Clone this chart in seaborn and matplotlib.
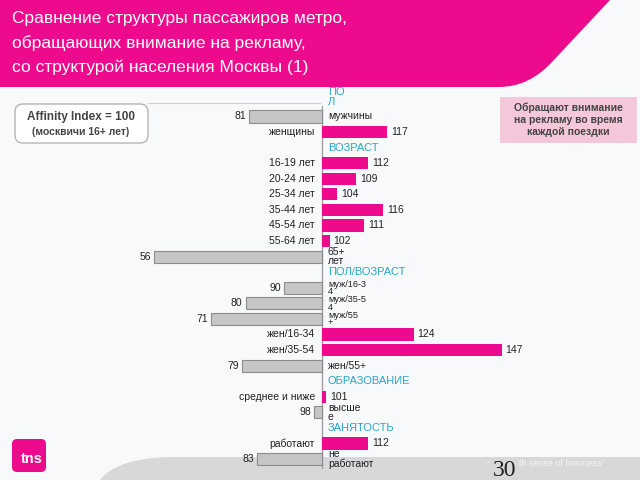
import matplotlib
matplotlib.use("Agg")
import matplotlib.pyplot as plt
import matplotlib.transforms as mtransforms
from matplotlib.path import Path
from matplotlib.patches import PathPatch, FancyBboxPatch
import seaborn as sns
import pandas as pd

sns.set_theme(style="white")
plt.rcParams['font.family'] = ['Liberation Sans', 'DejaVu Sans']

# ---------------- data ----------------
title_lines = ["Сравнение структуры пассажиров метро,",
               "обращающих внимание на рекламу,",
               "со структурой населения Москвы (1)"]

sections = ["ПО\nЛ", "ВОЗРАСТ", "ПОЛ/ВОЗРАСТ", "ОБРАЗОВАНИЕ", "ЗАНЯТОСТЬ"]

sex_labels = ["мужчины", "женщины"]
sex_values = [81, 117]

age_labels = ["16-19 лет", "20-24 лет", "25-34 лет", "35-44 лет",
              "45-54 лет", "55-64 лет", "65+\nлет"]
age_values = [112, 109, 104, 116, 111, 102, 56]

sexage_labels = ["муж/16-3\n4", "муж/35-5\n4", "муж/55\n+",
                 "жен/16-34", "жен/35-54", "жен/55+"]
sexage_values = [90, 80, 71, 124, 147, 79]

edu_labels = ["среднее и ниже", "высше\nе"]
edu_values = [101, 98]

emp_labels = ["работают", "не\nработают"]
emp_values = [112, 83]

baseline = 100
box_left = ["Affinity Index = 100", "(москвичи 16+ лет)"]
box_right = "Обращают внимание\nна рекламу во время\nкаждой поездки"
footer_quote = ["\u201c", "th sense of business\u201d"]
page_number = "30"

# ---------------- build rows ----------------
groups = [(sections[0], sex_labels, sex_values),
          (sections[1], age_labels, age_values),
          (sections[2], sexage_labels, sexage_values),
          (sections[3], edu_labels, edu_values),
          (sections[4], emp_labels, emp_values)]

rows = []
for head, labs, vals in groups:
    rows.append(dict(label=head, value=None, kind="head"))
    for l, v in zip(labs, vals):
        rows.append(dict(label=l, value=v, kind="cat"))
rows = pd.DataFrame(rows)
rows["rid"] = [f"r{i:02d}" for i in range(len(rows))]
order = list(rows["rid"])
bars = rows[rows.kind == "cat"].copy()
bars["dev"] = bars["value"] - baseline
bars["sign"] = ["pos" if v >= baseline else "neg" for v in bars["value"]]

PINK = "#EE0A8C"
GRAY = "#C6C6C6"
TEAL = "#2AA6C8"

# ---------------- figure ----------------
fig = plt.figure(figsize=(6.4, 4.8), dpi=100)
fig.patch.set_facecolor("#F7F9FA")

bg = fig.add_axes([0, 0, 1, 1], zorder=0)
bg.set_xlim(0, 640)
bg.set_ylim(480, 0)
bg.axis("off")

# title band
P = Path
verts = [(0, 0), (610, 0), (552, 62), (529, 87), (499, 87), (0, 87), (0, 0)]
codes = [P.MOVETO, P.LINETO, P.LINETO, P.CURVE3, P.CURVE3, P.LINETO, P.CLOSEPOLY]
bg.add_patch(PathPatch(Path(verts, codes), facecolor=PINK, edgecolor="none"))
for i, t in enumerate(title_lines):
    bg.text(12, 19 + i * 24, t, color="white", fontsize=12.5,
            ha="left", va="center")

# bottom gray band
verts = [(100, 480), (118, 457), (175, 457), (640, 457), (640, 480), (100, 480)]
codes = [P.MOVETO, P.CURVE3, P.CURVE3, P.LINETO, P.LINETO, P.CLOSEPOLY]
bg.add_patch(PathPatch(Path(verts, codes), facecolor="#D6D8D9", edgecolor="none"))

# thin line near left box
bg.plot([148, 320], [103, 103], color="#D0D0D0", lw=0.8)

# left box
bg.add_patch(FancyBboxPatch((15, 104), 133, 39,
                            boxstyle="round,pad=0,rounding_size=8",
                            facecolor="white", edgecolor="#B5B5B5", lw=1))
bg.text(81, 117, box_left[0], fontsize=8.5, fontweight="bold",
        color="#444444", ha="center", va="center")
bg.text(81, 132, box_left[1], fontsize=7.5, fontweight="bold",
        color="#444444", ha="center", va="center")

# right pink box
bg.add_patch(FancyBboxPatch((500, 97), 137, 46,
                            boxstyle="square,pad=0",
                            facecolor="#F4C8DA", edgecolor="none"))
bg.text(568, 119.5, box_right, fontsize=7.5, fontweight="bold",
        color="#444444", ha="center", va="center", linespacing=1.25)

# logo
bg.add_patch(FancyBboxPatch((12, 439), 34, 33,
                            boxstyle="round,pad=0,rounding_size=5",
                            facecolor=PINK, edgecolor="none"))
bg.text(21, 459, "tns", color="white", fontsize=10.5, fontweight="bold",
        ha="left", va="center")

# footer
bg.text(486, 464, footer_quote[0], color="#F4F4F4",
        fontsize=6.5, ha="left", va="center")
bg.text(519, 464, footer_quote[1], color="#F4F4F4",
        fontsize=6.5, ha="left", va="center")
bg.text(505, 471, page_number, fontsize=17, color="#222222",
        family="Liberation Serif", ha="center", va="center")

# ---------------- bars ----------------
ax = fig.add_axes([0, 0, 1, 1], zorder=1)
ax.patch.set_alpha(0)
sns.barplot(data=bars, x="dev", y="rid", order=order, hue="sign",
            hue_order=["pos", "neg"], palette={"pos": PINK, "neg": GRAY},
            dodge=False, orient="h", width=0.78, errorbar=None,
            saturation=1, legend=False, ax=ax)
for p in ax.patches:
    r, g, b, a = p.get_facecolor()
    if abs(r - g) < 0.05:
        p.set_edgecolor("#8C8C8C")
        p.set_linewidth(0.8)
    else:
        p.set_edgecolor("none")

px_per_unit = 3.82
ax.set_xlim(-322 / px_per_unit, 318 / px_per_unit)
row0 = 100.9
row_h = 15.57
ax.set_ylim((480 - row0) / row_h, -row0 / row_h)
ax.axis("off")

ax.plot([0, 0], [0.3, 23.55], color="#A0A0A0", lw=1, zorder=0.5)

def off(dx, dy=0):
    return mtransforms.offset_copy(ax.transData, fig=fig, x=dx, y=dy, units="dots")

for i, r in rows.iterrows():
    if r.kind == "head":
        dy = 4 if "\n" in r.label else 0
        ax.text(0, i, r.label, transform=off(6, dy), color=TEAL, fontsize=8,
                ha="left", va="center", linespacing=0.95)
        continue
    d = r.value - baseline
    if d > 0:
        ax.text(0, i, r.label, transform=off(-7), color="#222222",
                fontsize=7.5, ha="right", va="center")
        ax.text(d, i, f"{int(r.value)}", transform=off(4), color="#222222",
                fontsize=7.5, ha="left", va="center")
    else:
        tight = r.label.startswith("муж/")
        ax.text(0, i, r.label, transform=off(6), color="#222222",
                fontsize=6.6 if tight else 7.5, ha="left", va="center",
                linespacing=0.78 if tight else 0.85)
        ax.text(d, i, f"{int(r.value)}", transform=off(-3), color="#222222",
                fontsize=7.5, ha="right", va="center")

fig.savefig("out.png", dpi=100, facecolor=fig.get_facecolor())
